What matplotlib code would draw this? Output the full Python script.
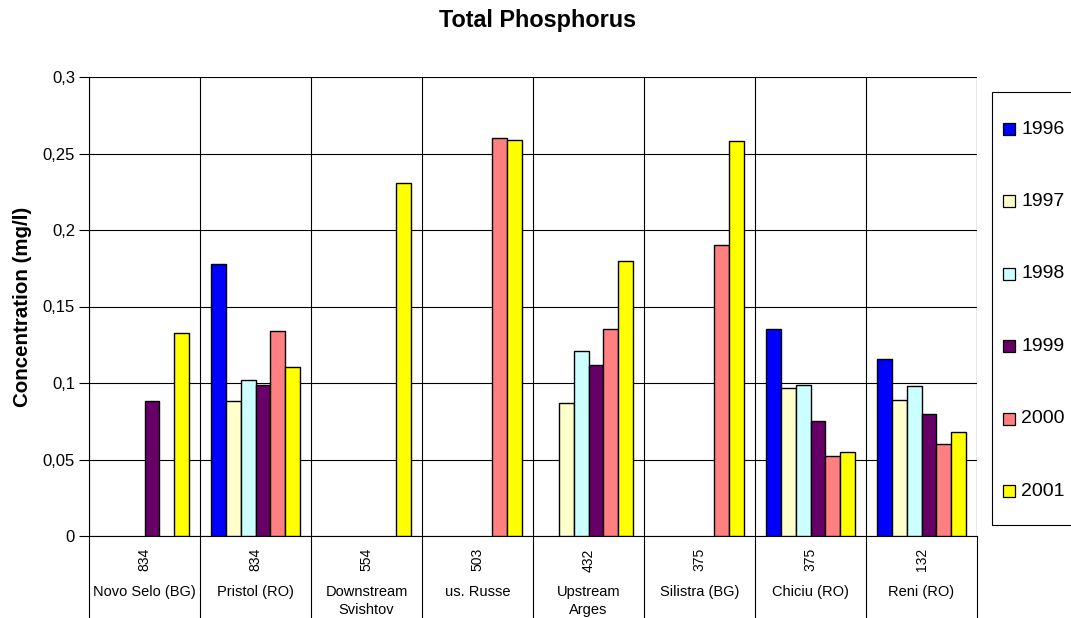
import numpy as np
import matplotlib
matplotlib.use("Agg")
import matplotlib.pyplot as plt
from matplotlib.patches import Rectangle

plt.rcParams["font.family"] = ["Liberation Sans", "DejaVu Sans"]

# stations along the Danube, river km and name
stations = ["Novo Selo (BG)", "Pristol (RO)", "Downstream\nSvishtov", "us. Russe",
            "Upstream\nArges", "Silistra (BG)", "Chiciu (RO)", "Reni (RO)"]
river_km = ["834", "834", "554", "503", "432", "375", "375", "132"]
years = ["1996", "1997", "1998", "1999", "2000", "2001"]

# total phosphorus, mg/l (nan = no measurement)
nan = np.nan
tp_1996 = [nan, 0.178, nan, nan, nan, nan, 0.135, 0.1155]
tp_1997 = [nan, 0.088, nan, nan, 0.087, nan, 0.097, 0.089]
tp_1998 = [nan, 0.102, nan, nan, 0.121, nan, 0.099, 0.098]
tp_1999 = [0.088, 0.099, nan, nan, 0.112, nan, 0.075, 0.080]
tp_2000 = [nan, 0.134, nan, 0.260, 0.135, 0.190, 0.052, 0.060]
tp_2001 = [0.133, 0.1105, 0.231, 0.259, 0.180, 0.258, 0.055, 0.068]
series = [tp_1996, tp_1997, tp_1998, tp_1999, tp_2000, tp_2001]

colors = ["#0000FF", "#FFFFCC", "#CCFFFF", "#660066", "#FF8080", "#FFFF00"]

W, H = 1071, 618
fig = plt.figure(figsize=(W / 100, H / 100), dpi=100)
ax = fig.add_axes([89 / W, 1 - 536 / H, (977 - 89) / W, (536 - 77) / H])

n = len(stations)
x = np.arange(n)
bw = 0.8 / len(years)
for i, (vals, c) in enumerate(zip(series, colors)):
    ax.bar(x - 0.4 + bw * (i + 0.5), vals, width=bw, color=c,
           edgecolor="black", linewidth=1.0, zorder=3)

ax.set_xlim(-0.5, n - 0.5)
ax.set_ylim(0, 0.3)
yt = np.arange(0, 0.301, 0.05)
ax.set_yticks(yt)
ax.set_yticklabels(["0" if v == 0 else f"{v:g}".replace(".", ",") for v in yt], fontsize=12)
ax.yaxis.grid(True, color="black", linewidth=0.8, zorder=0)
ax.tick_params(axis="y", length=7, width=0.8, color="black", pad=3)

# group separators run down through the label area
ax.set_xticks(np.arange(n + 1) - 0.5)
ax.set_xticklabels([])
ax.tick_params(axis="x", length=60, width=0.8, color="black")
ax.xaxis.grid(True, color="black", linewidth=0.8, zorder=0)

for s in ["top", "right"]:
    ax.spines[s].set_visible(False)
ax.spines["left"].set_linewidth(0.8)
ax.spines["bottom"].set_linewidth(0.8)
ax.axvline(n - 0.5, color="gray", linewidth=0.8)

trans = ax.get_xaxis_transform()
for xi, km, name in zip(x, river_km, stations):
    ax.text(xi, -0.052, km, rotation=90, ha="center", va="center",
            fontsize=10, transform=trans)
    for k, line in enumerate(name.split("\n")):
        ax.text(xi, -0.122 - 0.039 * k, line, ha="center", va="center",
                fontsize=10.5, transform=trans)

ax.set_ylabel("Concentration (mg/l)", fontsize=14.8, fontweight="bold")
ax.yaxis.set_label_coords((32 - 89) / 888, 0.5)
fig.text(538 / W, 1 - 21 / H, "Total Phosphorus", ha="center", va="center",
         fontsize=16.8, fontweight="bold")

# legend box, drawn by hand to match the spreadsheet layout
fig.patches.append(Rectangle((992 / W, 1 - 525 / H), 90 / W, 433 / H,
                             transform=fig.transFigure, facecolor="white",
                             edgecolor="black", linewidth=0.8))
for k, (yr, c) in enumerate(zip(years, colors)):
    yc = 129 + 72.4 * k
    fig.patches.append(Rectangle((1003 / W, 1 - (yc + 6) / H), 12 / W, 12 / H,
                                 transform=fig.transFigure, facecolor=c,
                                 edgecolor="black", linewidth=0.9))
    fig.text(1021 / W, 1 - yc / H, yr, ha="left", va="center", fontsize=14)

fig.savefig("out.png", dpi=100)
